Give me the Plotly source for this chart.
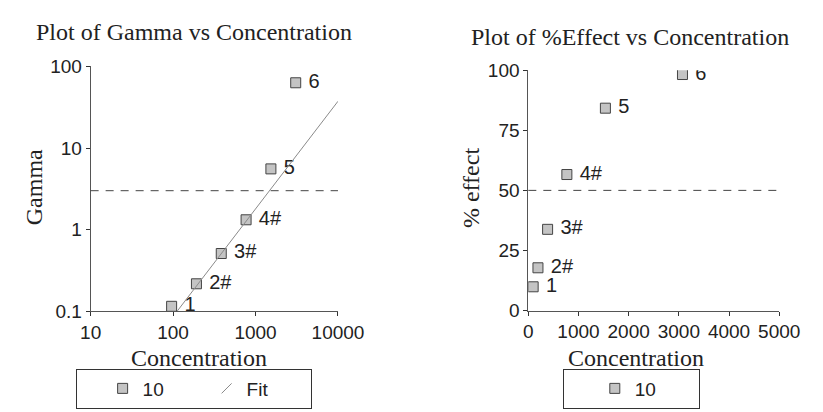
import plotly.graph_objects as go

# ---- data ----
concentration = [96, 192, 384, 768, 1536, 3072]
gamma = [0.115, 0.217, 0.51, 1.32, 5.55, 63]
effect = [9.9, 17.8, 33.8, 56.6, 84.2, 98.2]
point_labels = ["1", "2#", "3#", "4#", "5", "6"]
fit_conc = [112, 10000]
fit_gamma = [0.1, 37.4]
gamma_ref = 3
effect_ref = 50
log_x_ticks = [10, 100, 1000, 10000]
log_x_text = ["10", "100", "1000", "10000"]
log_y_ticks = [0.1, 1, 10, 100]
log_y_text = ["0.1", "1", "10", "100"]
lin_x_ticks = [0, 1000, 2000, 3000, 4000, 5000]
lin_y_ticks = [0, 25, 50, 75, 100]
series_name = "10"
fit_name = "Fit"

W, H = 823, 412
SANS = "Liberation Sans, Arial, sans-serif"
SERIF = "Liberation Serif, Times New Roman, serif"
TXT = "#222222"

def px_x(p):
    return p / W

def px_y(p):
    return 1 - p / H

marker_style = dict(symbol="square", size=10, color="#c4c4c4",
                    line=dict(color="#444444", width=1))
label_text = ["\u00a0" + s for s in point_labels]

fig = go.Figure()

# left panel: gamma vs concentration (log-log)
fig.add_trace(go.Scatter(
    x=concentration, y=gamma, mode="markers+text", name=series_name,
    text=label_text, textposition="middle right",
    textfont=dict(family=SANS, size=20, color=TXT),
    marker=marker_style, xaxis="x", yaxis="y", legend="legend"))
fig.add_trace(go.Scatter(
    x=fit_conc, y=fit_gamma, mode="lines", name=fit_name, showlegend=False,
    line=dict(color="#8a8a8a", width=1), xaxis="x", yaxis="y"))
fig.add_trace(go.Scatter(
    x=[None], y=[None], mode="markers", name=fit_name, legend="legend",
    marker=dict(symbol="line-ne", size=10, color="#8a8a8a",
                line=dict(color="#8a8a8a", width=1)),
    xaxis="x", yaxis="y"))

# right panel: %effect vs concentration
fig.add_trace(go.Scatter(
    x=concentration, y=effect, mode="markers+text", name=series_name,
    text=label_text, textposition="middle right",
    textfont=dict(family=SANS, size=20, color=TXT),
    marker=marker_style, xaxis="x2", yaxis="y2", legend="legend2"))

axis_common = dict(showline=True, linecolor="#555555", linewidth=1,
                   ticks="outside", ticklen=4, tickcolor="#333333",
                   showgrid=False, zeroline=False,
                   tickfont=dict(family=SANS, size=19, color=TXT))
inner_ticks = dict(showline=False, ticks="inside", ticklen=4,
                   tickcolor="#333333", showgrid=False, zeroline=False,
                   showticklabels=False)

xd1 = [px_x(75), px_x(334)]
yd1 = [px_y(309), px_y(51)]
xd2 = [px_x(533.3), px_x(796)]
yd2 = [px_y(308.3), px_y(55)]

legend_common = dict(orientation="h", yanchor="bottom", y=px_y(411.5),
                     bordercolor="#333333", borderwidth=1, bgcolor="white",
                     entrywidthmode="pixels",
                     font=dict(family=SANS, size=19, color=TXT))

fig.update_layout(
    width=W, height=H, margin=dict(l=0, r=0, t=0, b=0),
    paper_bgcolor="white", plot_bgcolor="white",
    xaxis=dict(axis_common, type="log", range=[1, 4], domain=xd1, anchor="y",
               tickvals=log_x_ticks, ticktext=log_x_text),
    yaxis=dict(axis_common, type="log", range=[-1, 2], domain=yd1, anchor="x",
               tickvals=log_y_ticks, ticktext=log_y_text),
    xaxis2=dict(axis_common, range=[0, 5000], domain=xd2, anchor="y2",
                tickvals=lin_x_ticks),
    yaxis2=dict(axis_common, range=[0, 100], domain=yd2, anchor="x2",
                tickvals=lin_y_ticks),
    xaxis3=dict(inner_ticks, type="log", range=[1, 4], overlaying="x",
                anchor="y", tickvals=log_x_ticks),
    yaxis3=dict(inner_ticks, type="log", range=[-1, 2], overlaying="y",
                anchor="x", tickvals=log_y_ticks),
    xaxis4=dict(inner_ticks, range=[0, 5000], overlaying="x2",
                anchor="y2", tickvals=lin_x_ticks),
    yaxis4=dict(inner_ticks, range=[0, 100], overlaying="y2",
                anchor="x2", tickvals=lin_y_ticks),
    legend=dict(legend_common, x=px_x(183), xanchor="center",
                entrywidth=59,
                title=dict(text="\u00a0\u00a0\u00a0", side="left",
                           font=dict(family=SANS, size=19))),
    legend2=dict(legend_common, x=px_x(641), xanchor="center",
                 entrywidth=58,
                 title=dict(text="\u00a0\u00a0\u00a0\u00a0", side="left",
                            font=dict(family=SANS, size=19))),
    showlegend=True,
)

# reference lines
fig.add_shape(type="line", xref="x domain", yref="y", x0=0, x1=1,
              y0=gamma_ref, y1=gamma_ref,
              line=dict(color="#444444", width=1, dash="8px,7px"))
fig.add_shape(type="line", xref="x2 domain", yref="y2", x0=0, x1=1,
              y0=effect_ref, y1=effect_ref,
              line=dict(color="#444444", width=1, dash="8px,7px"))

# titles
ann = [
    dict(text="Plot of Gamma vs Concentration", x=px_x(183.5), y=px_y(15)),
    dict(text="Plot of %Effect vs Concentration", x=px_x(640), y=px_y(20)),
    dict(text="Concentration", x=px_x(188.5), y=px_y(358)),
    dict(text="Concentration", x=px_x(646), y=px_y(358)),
    dict(text="Gamma", x=px_x(16), y=px_y(178), textangle=-90),
    dict(text="% effect", x=px_x(473.5), y=px_y(179), textangle=-90),
]
for a in ann:
    fig.add_annotation(xref="paper", yref="paper", showarrow=False,
                       xanchor="center", yanchor="middle",
                       font=dict(family=SERIF, size=24, color=TXT), **a)

fig.write_html("out.html")
